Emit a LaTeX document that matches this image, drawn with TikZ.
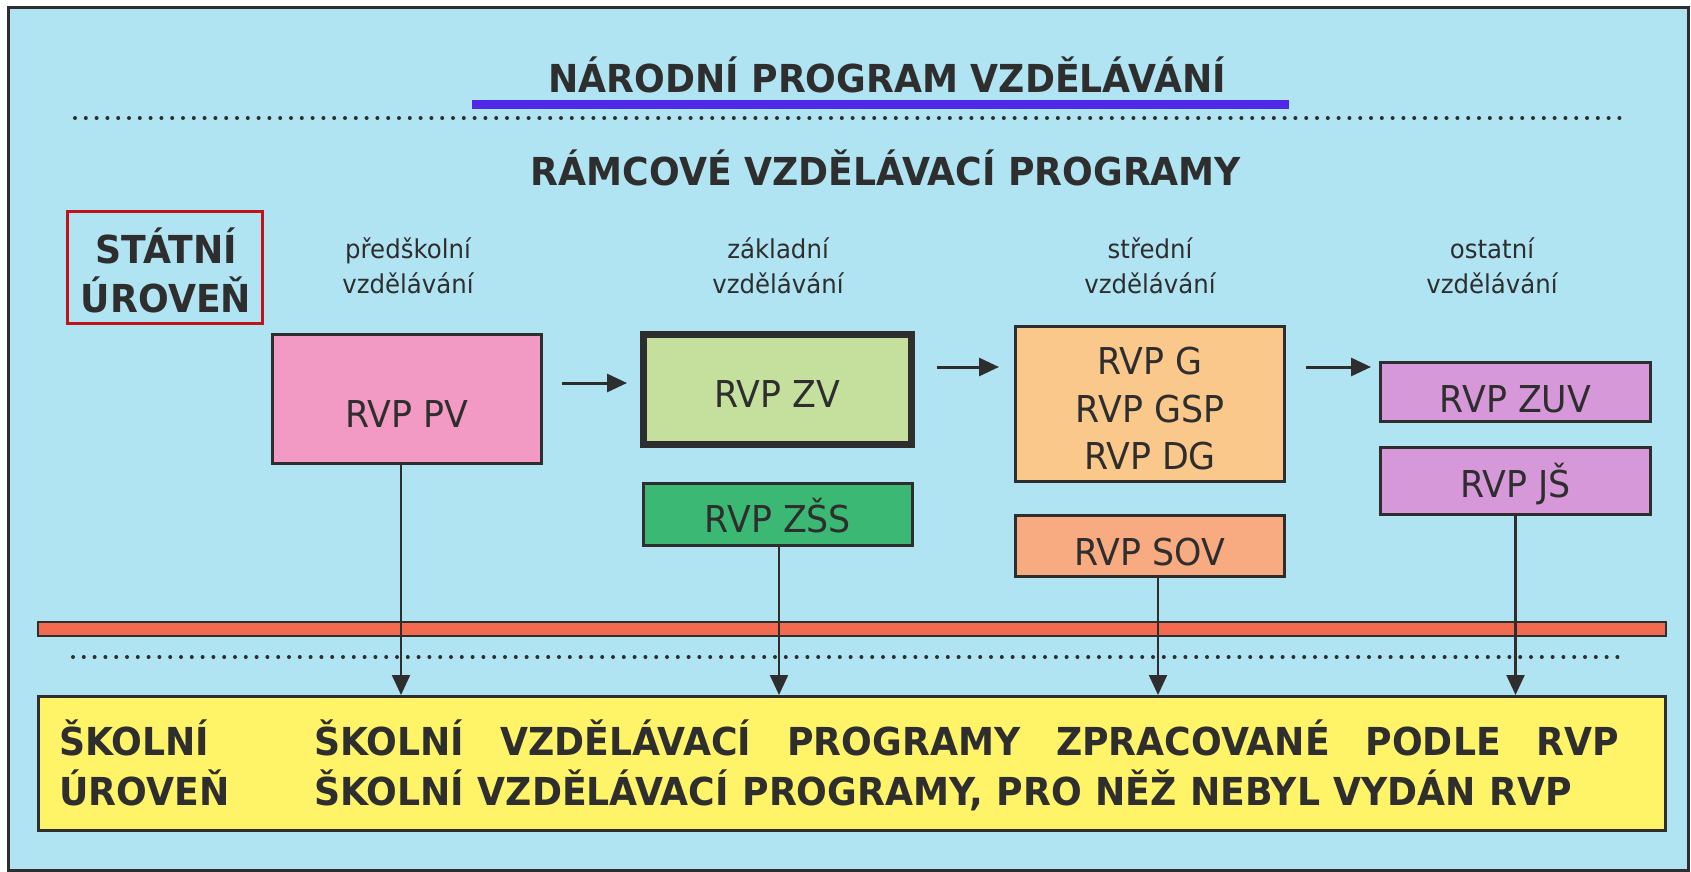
\documentclass[tikz,border=0pt]{standalone}
\usepackage{fontspec}
\setmainfont{DejaVu Sans}[FakeStretch=0.94]
\usetikzlibrary{arrows.meta}
\definecolor{bg}{HTML}{B0E4F2}
\definecolor{ink}{HTML}{2E2E2E}
\definecolor{uline}{HTML}{5028E8}
\definecolor{redbox}{HTML}{C0141C}
\definecolor{pvcol}{HTML}{F39AC4}
\definecolor{zvcol}{HTML}{C5E09C}
\definecolor{zsscol}{HTML}{3BB974}
\definecolor{midcol}{HTML}{FAC88A}
\definecolor{sovcol}{HTML}{F8AB80}
\definecolor{purcol}{HTML}{D698D8}
\definecolor{bandcol}{HTML}{F26A4F}
\definecolor{yelcol}{HTML}{FFF467}
\newcommand\mybold{\fontsize{38.5}{46}\selectfont\bfseries}
\newcommand\myreg{\fontsize{37}{47.5}\selectfont}
\newcommand\mysmall{\fontsize{26}{35}\selectfont}
\begin{document}
\begin{tikzpicture}[x=1pt,y=-1pt,
  every node/.style={text=ink},
  rvpbox/.style={draw=ink, line width=3pt, rectangle, inner sep=0pt, font=\myreg, text depth=0pt},
  btxt/.style={font=\mybold, inner sep=0pt, anchor=base},
  stxt/.style={font=\mysmall, inner sep=0pt, anchor=base},
  dotline/.style={draw=ink, line width=4pt, line cap=round, dash pattern=on 0pt off 10.8pt},
  tipstyle/.style={-{Triangle[length=20pt,width=18pt]}},
  harr/.style={tipstyle, draw=ink, line width=3pt},
  varr/.style={tipstyle, draw=ink, line width=2.2pt}]
\useasboundingbox (0,0) rectangle (1691,872);
\fill[white] (0,0) rectangle (1691,872);
\draw[draw=ink, line width=3pt, fill=bg] (8,8) rectangle (1688,870);

% headings
\node[btxt] (title) at (887,93) {NÁRODNÍ PROGRAM VZDĚLÁVÁNÍ};
\draw[uline, line width=9pt] (472,104.5) -- (1289,104.5);
\draw[dotline] (75,118) -- (1628,118);
\node[btxt] (rvp) at (886,185) {RÁMCOVÉ VZDĚLÁVACÍ PROGRAMY};

% state level
\node[draw=redbox, line width=3.5pt, minimum width=195pt, minimum height=112pt, inner sep=0pt] (stat) at (165,267.5) {};
\node[btxt] (stat1) at (166,263) {STÁTNÍ};
\node[btxt] (stat2) at (166,312) {ÚROVEŇ};

% column headings
\node[stxt] (h1a) at (408,258) {předškolní};
\node[stxt] (h1b) at (408,293) {vzdělávání};
\node[stxt] (h2a) at (778,258) {základní};
\node[stxt] (h2b) at (778,293) {vzdělávání};
\node[stxt] (h3a) at (1150,258) {střední};
\node[stxt] (h3b) at (1150,293) {vzdělávání};
\node[stxt] (h4a) at (1492,258) {ostatní};
\node[stxt] (h4b) at (1492,293) {vzdělávání};

% band and lower dotted line
\node[draw=ink, line width=2pt, fill=bandcol, minimum width=1628pt, minimum height=14pt, inner sep=0pt] (band) at (852,628.5) {};
\draw[dotline] (73,657) -- (1625,657);

% boxes
\node[rvpbox, fill=pvcol, minimum width=269pt, minimum height=129pt, text height=56pt] (pv) at (407,399) {RVP PV};
\node[rvpbox, fill=zvcol, line width=7pt, minimum width=268pt, minimum height=110pt, text height=35pt] (zv) at (777.5,389.5) {RVP ZV};
\node[rvpbox, fill=zsscol, minimum width=269pt, minimum height=62pt, text height=35pt] (zss) at (778,514.5) {RVP ZŠS};
\node[draw=ink, line width=3pt, rectangle, inner sep=0pt, font=\myreg, align=center, fill=midcol, minimum width=269pt, minimum height=155pt] (mid) at (1150,404) {\rule{0pt}{37pt}RVP G\\RVP GSP\\RVP DG};
\node[rvpbox, fill=sovcol, minimum width=269pt, minimum height=61pt, text height=38pt] (sov) at (1150,546) {RVP SOV};
\node[rvpbox, fill=purcol, minimum width=270pt, minimum height=59pt, text height=40pt] (zuv) at (1515.5,392) {RVP ZUV};
\node[rvpbox, fill=purcol, minimum width=270pt, minimum height=67pt, text height=32pt] (js) at (1515.5,481) {RVP JŠ};

% school level box
\node[draw=ink, line width=3pt, fill=yelcol, minimum width=1627pt, minimum height=134pt, inner sep=0pt] (sch) at (852,763.5) {};
\node[font=\mybold, inner sep=0pt, anchor=base west] (sk1) at (59,755) {ŠKOLNÍ};
\node[font=\mybold, inner sep=0pt, anchor=base west] (sk2) at (59,805) {ÚROVEŇ};
\node[font=\mybold, inner sep=0pt, anchor=base west] (svp1) at (314,755) {\makebox[1305pt][s]{ŠKOLNÍ VZDĚLÁVACÍ PROGRAMY ZPRACOVANÉ PODLE RVP}};
\node[font=\mybold, inner sep=0pt, anchor=base west] (svp2) at (314,805) {\makebox[1258pt][s]{ŠKOLNÍ VZDĚLÁVACÍ PROGRAMY, PRO NĚŽ NEBYL VYDÁN RVP}};

% horizontal arrows
\coordinate (ya) at (0,383);
\coordinate (yb) at (0,367);
\draw[harr, shorten <=19pt, shorten >=13pt] (pv.east |- ya) -- (zv.west |- ya);
\draw[harr, shorten <=21.5pt, shorten >=15pt] (zv.east |- yb) -- (mid.west |- yb);
\draw[harr, shorten <=20pt, shorten >=8pt] (mid.east |- yb) -- (zuv.west |- yb);

% vertical arrows
\draw[varr] ([xshift=-6pt]pv.south) -- ([xshift=-6pt]pv.south |- sch.north);
\draw[varr] ([xshift=1pt]zss.south) -- ([xshift=1pt]zss.south |- sch.north);
\draw[varr] ([xshift=8pt]sov.south) -- ([xshift=8pt]sov.south |- sch.north);
\draw[varr] (js.south) -- (js.south |- sch.north);
\end{tikzpicture}
\end{document}
